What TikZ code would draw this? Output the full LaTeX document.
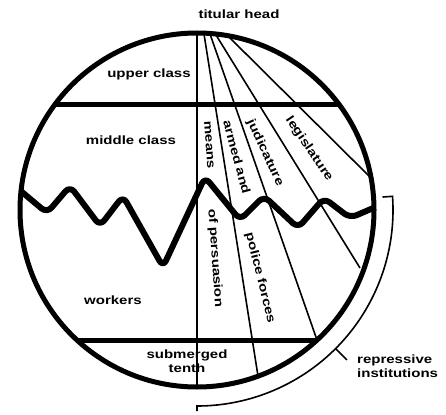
\documentclass[tikz,border=0pt]{standalone}
\usepackage{fontspec}
\newfontfamily\globefont{Liberation Sans}[FakeStretch=1.25]
\usetikzlibrary{calc}
\newcommand{\classname}[1]{{\bfseries #1}}

\begin{document}
\begin{tikzpicture}[
  x=1pt, y=-1pt,
  font=\globefont\fontsize{12}{14.5}\selectfont,
  rim/.style={draw=black, line width=5pt},
  band/.style={draw=black, line width=5pt},
  ray/.style={draw=black, line width=1.6pt},
  wave/.style={draw=black, line width=6pt, rounded corners=7pt, line join=round},
  bracket/.style={draw=black, line width=1.6pt},
  lbl/.style={inner sep=0pt, text=black},
]

\useasboundingbox (0,0) rectangle (446,414);

% ---- the globe ----
\coordinate (centre) at (197,210);

\begin{scope}
  \clip (centre) circle (177pt);
  % class bands
  \draw[band] (0,105) -- (446,105);
  \draw[band] (0,340) -- (446,340);
  % rays from the titular head
  \draw[ray] (197,30) -- (197,400);
  \draw[ray] (204,34) -- (258,376);
  \draw[ray] (210,34) -- (317,340);
  \draw[ray] (216,35) -- (360,268);
  \draw[ray] (229,37) -- (371,178);
  % the line between middle class and workers
  \draw[wave] (10,182) -- (47,213) -- (70,186) -- (100,226) -- (123,196)
    -- (163,267) -- (205,177) -- (240,220) -- (264,196) -- (298,228)
    -- (324,198) -- (350,218) -- (385,203);
\end{scope}

\draw[rim] (centre) circle (177pt);

% ---- bracket for the repressive institutions ----
\draw[bracket] ($(centre)+(4:186pt)$) -- ($(centre)+(4:196pt)$)
  arc[start angle=4, end angle=-90, radius=196pt] -- ++(0,5);
\draw[bracket] ($(centre)+(-45:196pt)$) -- ($(centre)+(-45:212pt)$);

% ---- nodes ----
\node[lbl] (head) at (239,14) {\classname{titular head}};
\node[lbl] (upper) at (149,74) {\classname{upper class}};
\node[lbl] (middle) at (131,140) {\classname{middle class}};
\node[lbl] (workers) at (113,300) {\classname{workers}};
\node[lbl, align=center] (tenth) at (187,361) {\classname{submerged}\\\classname{tenth}};
\node[lbl, align=left, anchor=west] (repressive) at (357,366)
  {\classname{repressive}\\\classname{institutions}};

\node[lbl, rotate=-86] (means) at (209,145) {\classname{means}};
\node[lbl, rotate=-86] (persuasion) at (215,258) {\classname{of persuasion}};
\node[lbl, rotate=-75] (armed) at (237,157) {\classname{armed and}};
\node[lbl, rotate=-76] (police) at (260,278) {\classname{police forces}};
\node[lbl, rotate=-65] (judicature) at (265,153) {\classname{judicature}};
\node[lbl, rotate=-56] (legislature) at (309,149) {\classname{legislature}};

\end{tikzpicture}
\end{document}
